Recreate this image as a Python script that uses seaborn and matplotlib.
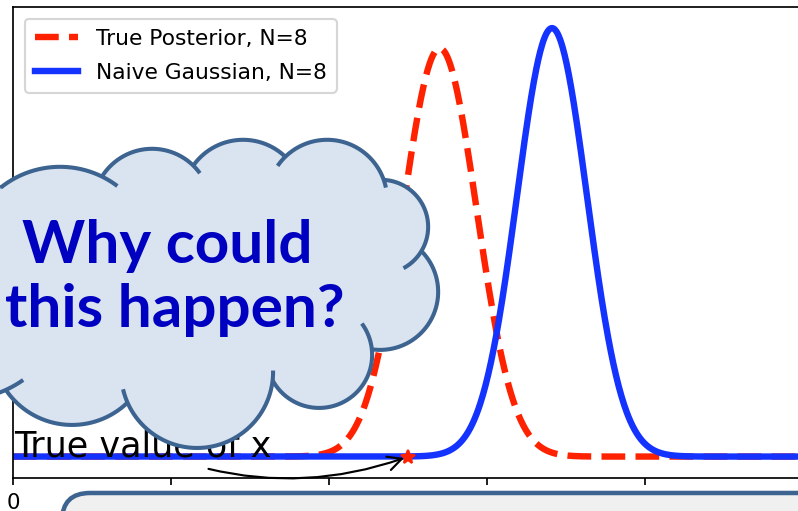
import numpy as np
import matplotlib
matplotlib.use("Agg")
import matplotlib.pyplot as plt
from matplotlib.patches import Circle, Polygon, FancyBboxPatch
from matplotlib.path import Path
import seaborn as sns

# ---- data -------------------------------------------------------------
true_x = 2.5                      # true value of x (marked with a star)
posterior_mean, posterior_sd = 2.70, 0.233   # true posterior, N=8
naive_mean, naive_sd = 3.41, 0.222           # naive Gaussian, N=8
x_range = [0.0, 5.0]
series_labels = ["True Posterior, N=8", "Naive Gaussian, N=8"]
tick_values = [0, 1, 2, 3, 4, 5]
tick_labels = ["0", "1", "2", "3", "4", "5"]

RED = "#ff2200"
BLUE = "#1433ff"
EDGE = "#3d6491"
CLOUD_FILL = "#dae3f0"

DPI = 154
W, H = 798, 511
fig = plt.figure(figsize=((W + 0.3) / DPI, (H + 0.3) / DPI), dpi=DPI)
fig.patch.set_facecolor("white")

ax = fig.add_axes([13 / W, 33 / H, 790 / W, 471 / H])

xs = np.linspace(x_range[0], x_range[1], 1200)


def gauss(x, m, s):
    return np.exp(-0.5 * ((x - m) / s) ** 2) / (s * np.sqrt(2 * np.pi))


sns.lineplot(x=xs, y=gauss(xs, posterior_mean, posterior_sd), ax=ax, color=RED,
             lw=3, linestyle="--", label=series_labels[0])
sns.lineplot(x=xs, y=gauss(xs, naive_mean, naive_sd), ax=ax, color=BLUE,
             lw=3, label=series_labels[1])
ax.plot([true_x], [0], marker="*", color=RED, ms=6.5, ls="none", zorder=4)
ax.annotate("True value of x", xy=(true_x, 0), xytext=(0.01, 0), fontsize=16.4,
            arrowprops=dict(arrowstyle="->", color="black", lw=1,
                            connectionstyle="arc3,rad=0.2"))

ax.set_xlim(*x_range)
ax.set_xticks(tick_values)
ax.set_xticklabels(tick_labels)
ax.set_yticks([])
ax.legend(loc="upper left", fontsize=10.2, borderaxespad=0.55,
          labelspacing=0.65, borderpad=0.45)

# ---- overlay in pixel coordinates: thought cloud and caption box -----
ov = fig.add_axes([0, 0, 1, 1], zorder=10)
ov.set_xlim(0, W)
ov.set_ylim(H, 0)
ov.axis("off")
ov.patch.set_alpha(0)

# cloud bumps: (cx, cy, r, extra stroke at start, extra stroke at end)
bumps = [
    (60, 262, 95, 0, 18),
    (152, 208, 59, 0, 10),
    (243, 201, 61, 0, 0),
    (327, 200, 60, 12, 8),
    (381, 227, 47, 0, 25),
    (380, 292, 58, 0, 0),
    (319, 355, 53, 28, 0),
    (197, 372, 76, 10, 14),
    (72, 345, 80, 0, 0),
    (-40, 290, 110, 20, 0),
]
centers = np.array([[b[0], b[1]] for b in bumps], float)
core = Polygon(centers, closed=True, facecolor=CLOUD_FILL, edgecolor="none", zorder=1)
ov.add_patch(core)
core_path = Path(centers)
for cx, cy, r, _, _ in bumps:
    ov.add_patch(Circle((cx, cy), r, facecolor=CLOUD_FILL, edgecolor="none", zorder=1))

n = 2880
th = np.linspace(0, 2 * np.pi, n, endpoint=False)
for i, (cx, cy, r, ext_s, ext_e) in enumerate(bumps):
    px = cx + r * np.cos(th)
    py = cy + r * np.sin(th)
    vis = np.ones(n, bool)
    for j, (x2, y2, r2, _, _) in enumerate(bumps):
        if j != i:
            vis &= (px - x2) ** 2 + (py - y2) ** 2 > r2 ** 2
    vis &= ~core_path.contains_points(np.c_[px, py])
    if not vis.any():
        continue
    k = int(np.argmin(vis)) if not vis.all() else 0
    v = np.roll(vis, -k)
    best, cur = (0, 0), None
    for idx, val in enumerate(np.append(v, False)):
        if val and cur is None:
            cur = idx
        elif not val and cur is not None:
            if idx - cur > best[1] - best[0]:
                best = (cur, idx)
            cur = None
    a0 = th[(best[0] + k) % n]
    a1 = a0 + (best[1] - best[0]) * 2 * np.pi / n
    a0 -= ext_s / r
    a1 += ext_e / r
    t = np.linspace(a0, a1, 400)
    ov.plot(cx + r * np.cos(t), cy + r * np.sin(t), color=EDGE, lw=1.9,
            solid_capstyle="butt", zorder=2)

ov.text(167.5, 263, "Why could", ha="center", va="baseline", fontsize=28.2,
        fontweight="bold", color="#0000c0", family="Lato", zorder=3)
ov.text(175, 327, "this happen?", ha="center", va="baseline", fontsize=28.2,
        fontweight="bold", color="#0000c0", family="Lato", zorder=3)

box = FancyBboxPatch((62, 493), 800, 80, boxstyle="round,pad=0,rounding_size=28",
                     facecolor="#f0f0f0", edgecolor=EDGE, lw=2.1, zorder=4)
ov.add_patch(box)

fig.savefig("out.png", dpi=DPI)
